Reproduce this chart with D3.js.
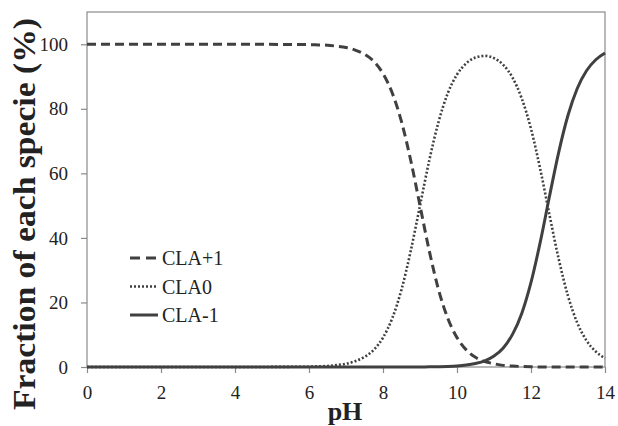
<!DOCTYPE html>
<html>
<head>
<meta charset="utf-8">
<title>Fraction of each specie</title>
<script src="https://cdn.jsdelivr.net/npm/d3@7"></script>
<style>
  body { margin:0; background:#fff; }
</style>
</head>
<body>
<svg id="chart" width="618" height="426"></svg>
<script>
// values
var pH      = [0, 2, 4, 6, 6.25, 6.5, 6.75, 7, 7.25, 7.5, 7.75, 8, 8.25, 8.5, 8.75, 9, 9.25, 9.5, 9.75, 10,
               10.25, 10.5, 10.75, 11, 11.25, 11.5, 11.75, 12, 12.25, 12.5, 12.75, 13, 13.25, 13.5, 13.75, 14]
var claPlus = [100, 100, 100, 99.9, 99.8, 99.7, 99.4, 99.0, 98.2, 96.9, 94.7, 90.9, 84.9, 76.0, 64.0, 50.0, 36.0, 24.0, 15.1, 9.1,
               5.3, 3.0, 1.7, 1.0, 0.5, 0.3, 0.15, 0.07, 0.03, 0.01, 0, 0, 0, 0, 0, 0]
var claZero = [0, 0, 0, 0.1, 0.2, 0.3, 0.6, 1.0, 1.8, 3.1, 5.3, 9.1, 15.1, 24.0, 36.0, 50.0, 64.0, 75.9, 84.8, 90.6,
               94.1, 95.9, 96.4, 95.7, 93.6, 89.7, 83.2, 73.8, 61.3, 47.1, 33.4, 22.0, 13.7, 8.2, 4.8, 2.7]
var claMinus = [0, 0, 0, 0, 0, 0, 0, 0, 0, 0, 0, 0, 0, 0, 0, 0.02, 0.04, 0.09, 0.17, 0.32,
               0.6, 1.1, 1.9, 3.4, 5.9, 10.1, 16.6, 26.2, 38.7, 52.9, 66.6, 78.0, 86.3, 91.8, 95.2, 97.3]
var xTicks = [0, 2, 4, 6, 8, 10, 12, 14]
var yTicks = [0, 20, 40, 60, 80, 100]
var seriesNames = ["CLA+1", "CLA0", "CLA-1"]

var W = 618, H = 426
var margin = {left:87, right:13, top:12, bottom:59}
var svg = d3.select("#chart")
var lineColor = "#404040"
var serif = "'Liberation Serif', 'Times New Roman', Times, serif"

var x = d3.scaleLinear().domain([0, 14]).range([margin.left, W - margin.right])
var y = d3.scaleLinear().domain([0, 110]).range([H - margin.bottom, margin.top])

// frame
svg.append("rect")
  .attr("x", x(0)).attr("y", y(110))
  .attr("width", x(14) - x(0)).attr("height", y(0) - y(110))
  .attr("fill", "none").attr("stroke", "#8a8a8a").attr("stroke-width", 1.2)

svg.append("g")
  .attr("transform", "translate(0," + y(0) + ")")
  .call(d3.axisBottom(x).tickValues(xTicks).tickSize(6).tickPadding(13).tickFormat(d3.format("d")))
svg.append("g")
  .attr("transform", "translate(" + x(0) + ",0)")
  .call(d3.axisLeft(y).tickValues(yTicks).tickSize(6).tickPadding(13).tickFormat(d3.format("d")))
svg.selectAll(".domain").remove()
svg.selectAll(".tick line").attr("stroke", "#8a8a8a").attr("stroke-width", 1.2)
svg.selectAll(".tick text")
  .style("font-family", serif).style("font-size", "19px").attr("fill", "#222")

// curves
var series = [
  {name: seriesNames[0], values: claPlus,  dash: "9,5", width: 3},
  {name: seriesNames[1], values: claZero,  dash: "2,2", width: 2.6},
  {name: seriesNames[2], values: claMinus, dash: null,  width: 3}
]
var line = d3.line()
  .x(function(d, i) { return x(pH[i]) })
  .y(function(d) { return y(d) })
  .curve(d3.curveMonotoneX)

series.forEach(function(s) {
  svg.append("path")
    .attr("d", line(s.values))
    .attr("fill", "none")
    .attr("stroke", lineColor)
    .attr("stroke-width", s.width)
    .attr("stroke-dasharray", s.dash)
})

// legend
var leg = svg.append("g")
series.forEach(function(s, i) {
  var yy = 258 + i * 28.5
  leg.append("line")
    .attr("x1", 130).attr("x2", 158).attr("y1", yy).attr("y2", yy)
    .attr("stroke", lineColor).attr("stroke-width", s.width)
    .attr("stroke-dasharray", s.dash ? (i == 0 ? "10,6" : "2,2") : null)
  leg.append("text")
    .attr("x", 162).attr("y", yy + 7)
    .style("font-family", serif).style("font-size", "20px").attr("fill", "#222")
    .text(s.name)
})

// axis titles
svg.append("text")
  .attr("x", x(7) - 1).attr("y", 420)
  .attr("text-anchor", "middle")
  .style("font-family", serif).style("font-size", "26px").style("font-weight", "bold").attr("fill", "#222")
  .text("pH")

svg.append("text")
  .attr("transform", "translate(35,214) rotate(-90)")
  .attr("text-anchor", "middle")
  .style("font-family", serif).style("font-size", "31px").style("font-weight", "bold").attr("fill", "#222")
  .attr("textLength", 392).attr("lengthAdjust", "spacingAndGlyphs")
  .text("Fraction of each specie (%)")
</script>
</body>
</html>
